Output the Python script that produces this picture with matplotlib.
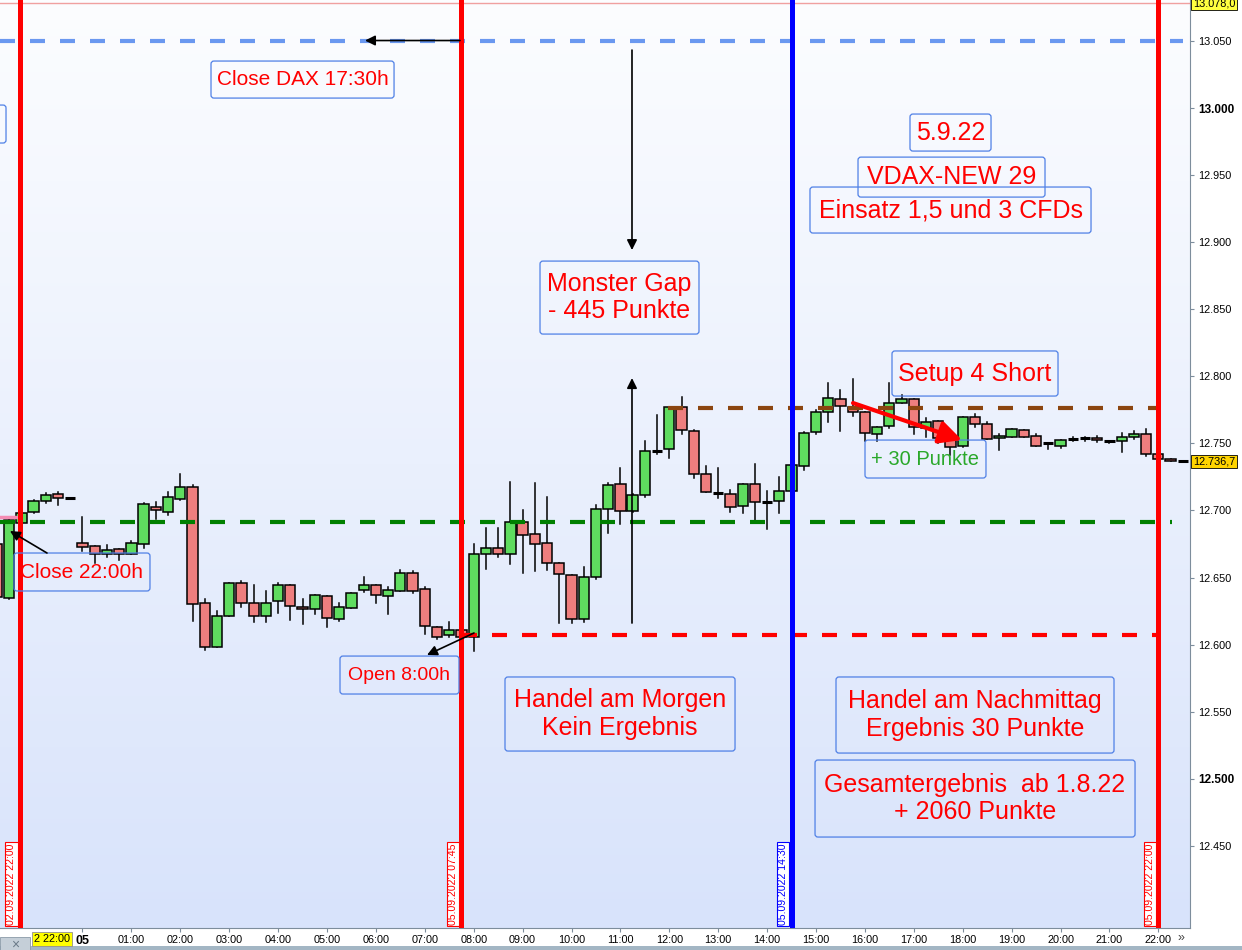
import numpy as np
import matplotlib.pyplot as plt
from matplotlib.patches import Rectangle, FancyBboxPatch

plt.rcParams['font.family'] = ['Liberation Sans', 'DejaVu Sans']

# DAX 15-min candles, slot 0 = 05.09.2022 00:00
slot = np.arange(-7, 91)
o = [12675.0, 12634.8, 12690.6, 12698.9, 12707.1, 12712.3, 12709.3,
     12675.8, 12673.5, 12667.6, 12671.3, 12667.6, 12675.0, 12702.6, 12698.9,
     12708.5, 12717.5, 12631.0, 12598.2, 12621.4, 12645.9, 12631.0, 12621.4,
     12632.5, 12644.4, 12628.0, 12626.6, 12636.3, 12619.1, 12627.3, 12640.7,
     12644.4, 12636.3, 12640.0, 12653.4, 12641.5, 12613.2, 12607.2, 12610.9,
     12605.7, 12667.6, 12672.0, 12667.6, 12691.4, 12682.5, 12675.8, 12660.9,
     12651.9, 12619.1, 12650.4, 12701.1, 12719.7, 12699.6, 12711.5, 12744.3,
     12745.8, 12777.1, 12759.2, 12727.2, 12713.0, 12712.3, 12703.3, 12719.7,
     12706.3, 12707.1, 12714.5, 12733.2, 12758.5, 12773.4, 12783.1, 12777.1,
     12773.4, 12757.0, 12762.9, 12780.1, 12783.1, 12761.5, 12766.7, 12752.5,
     12748.0, 12769.7, 12764.4, 12754.0, 12754.8, 12760.0, 12755.5, 12750.3,
     12748.0, 12753.3, 12754.0, 12754.0, 12751.8, 12751.8, 12754.8, 12757.0,
     12742.1, 12738.4, 12736.7]
h = [12676.0, 12694.4, 12699.0, 12708.0, 12713.0, 12713.8, 12709.6,
     12695.1, 12673.5, 12674.3, 12671.3, 12677.2, 12705.6, 12706.3, 12713.8,
     12727.2, 12719.0, 12634.0, 12625.1, 12645.9, 12647.4, 12644.4, 12640.0,
     12645.9, 12644.4, 12634.0, 12637.0, 12636.3, 12631.0, 12638.5, 12650.4,
     12644.4, 12643.0, 12655.6, 12654.9, 12643.0, 12613.2, 12616.9, 12611.0,
     12675.0, 12686.9, 12686.9, 12721.2, 12700.4, 12720.5, 12710.0, 12660.9,
     12651.9, 12657.9, 12704.1, 12720.5, 12731.6, 12712.0, 12751.8, 12771.2,
     12777.1, 12784.6, 12760.0, 12733.2, 12731.6, 12715.3, 12719.7, 12734.6,
     12714.5, 12725.0, 12735.0, 12758.5, 12774.9, 12795.0, 12789.8, 12798.0,
     12773.4, 12762.2, 12795.0, 12786.0, 12783.1, 12768.9, 12766.7, 12752.5,
     12769.7, 12771.9, 12765.9, 12757.0, 12761.0, 12760.0, 12757.0, 12750.5,
     12752.5, 12754.8, 12754.8, 12755.5, 12752.0, 12757.7, 12759.2, 12760.7,
     12742.1, 12738.4, 12736.7]
l = [12634.5, 12634.0, 12690.0, 12698.0, 12705.6, 12704.1, 12709.0,
     12669.8, 12660.9, 12665.3, 12663.1, 12667.6, 12672.0, 12693.6, 12696.6,
     12707.8, 12617.6, 12596.0, 12598.2, 12621.4, 12628.0, 12616.9, 12616.9,
     12623.6, 12618.4, 12615.4, 12622.8, 12613.2, 12617.6, 12627.3, 12639.2,
     12631.0, 12622.8, 12640.0, 12638.5, 12607.9, 12604.2, 12605.7, 12605.0,
     12595.3, 12656.4, 12665.3, 12660.1, 12653.4, 12654.9, 12655.6, 12616.1,
     12616.1, 12616.9, 12648.9, 12683.2, 12689.9, 12699.0, 12710.0, 12742.1,
     12739.1, 12757.0, 12724.2, 12713.8, 12709.3, 12698.9, 12698.1, 12691.4,
     12686.2, 12698.1, 12713.0, 12730.2, 12757.0, 12765.9, 12759.2, 12770.4,
     12751.8, 12751.8, 12761.5, 12780.1, 12757.0, 12754.8, 12750.3, 12741.3,
     12747.3, 12762.2, 12753.3, 12745.1, 12754.5, 12754.8, 12748.0, 12745.8,
     12746.5, 12751.8, 12751.8, 12751.0, 12750.3, 12743.6, 12753.3, 12740.6,
     12738.0, 12736.7, 12736.7]
c = [12635.5, 12692.9, 12698.1, 12707.1, 12711.5, 12709.3, 12709.3,
     12672.8, 12667.6, 12670.5, 12667.6, 12675.8, 12704.8, 12700.4, 12710.0,
     12717.5, 12630.3, 12598.2, 12621.4, 12645.9, 12631.0, 12621.4, 12631.0,
     12644.4, 12628.8, 12626.6, 12637.0, 12619.9, 12628.0, 12638.5, 12644.4,
     12637.0, 12640.7, 12653.4, 12640.0, 12613.9, 12605.7, 12610.9, 12605.7,
     12667.6, 12672.0, 12667.6, 12691.4, 12681.7, 12675.0, 12660.9, 12652.7,
     12619.1, 12650.4, 12701.1, 12719.0, 12699.6, 12711.5, 12744.3, 12744.3,
     12777.1, 12760.0, 12727.2, 12713.8, 12713.0, 12702.6, 12719.7, 12706.3,
     12706.3, 12714.5, 12733.9, 12757.7, 12773.4, 12783.8, 12777.9, 12773.4,
     12757.7, 12762.2, 12780.1, 12783.1, 12762.2, 12765.9, 12754.0, 12747.3,
     12769.7, 12764.4, 12753.3, 12755.5, 12760.7, 12754.8, 12748.0, 12750.3,
     12752.5, 12753.3, 12754.0, 12752.5, 12751.8, 12754.8, 12757.0, 12742.1,
     12738.4, 12736.7, 12736.7]

price_ticks = np.arange(12450, 13051, 50)
hour_ticks = np.arange(0, 23)
hour_labels = ['05'] + ['%02d:00' % k for k in range(1, 23)]

# marker lines (hours rel. to 05.09. 00:00)
vlines = [(-1.278, '#ff0000', '02.09.2022 22:00'),
          (7.75, '#ff0000', '05.09.2022 07:45'),
          (14.5, '#0000ff', '05.09.2022 14:30'),
          (22.0, '#ff0000', '05.09.2022 22:00')]
close_dax = 13050.1
close_fri = 12691.4
open_mon = 12607.5
setup_lvl = 12776.4
last_price = 12736.7
high_mark = 13078.0

red = '#ff0000'
grn = '#2aa82a'
notes = [
    (2.628, 6.371, 13007.4, 13035.0, 'Close DAX 17:30h', red, 15),
    (16.922, 18.579, 12967.9, 12995.5, '5.9.22', red, 18),
    (15.859, 19.683, 12933.6, 12963.4, 'VDAX-NEW 29', red, 18),
    (14.877, 20.624, 12906.8, 12941.1, 'Einsatz 1,5 und 3 CFDs', red, 18),
    (9.356, 12.607, 12831.5, 12885.9, 'Monster Gap\n- 445 Punkte', red, 18),
    (16.554, 19.949, 12785.3, 12818.9, 'Setup 4 Short', red, 18),
    (16.002, 18.476, 12724.2, 12752.5, '+ 30 Punkte', grn, 14.5),
    (-1.401, 1.380, 12640.0, 12668.3, 'Close 22:00h', red, 15),
    (5.266, 7.699, 12563.2, 12591.5, 'Open 8:00h', red, 14),
    (8.640, 13.344, 12520.7, 12575.9, 'Handel am Morgen\nKein Ergebnis', red, 18),
    (15.409, 21.094, 12519.2, 12575.9, 'Handel am Nachmittag\nErgebnis 30 Punkte', red, 18),
    (14.980, 21.524, 12456.6, 12514.0, 'Gesamtergebnis  ab 1.8.22\n+ 2060 Punkte', red, 18),
]

xmin, xmax = -1.687, 22.648
ymin, ymax = 12388.8, 13080.5

fig = plt.figure(figsize=(12.42, 9.5), dpi=100)
fig.patch.set_facecolor('white')
ax = fig.add_axes([0, 22 / 950, 1190 / 1242, 928 / 950])

# background gradient
grad = np.linspace(0, 1, 256)[:, None, None]
top = np.array([252, 253, 255]) / 255
bot = np.array([216, 227, 251]) / 255
ax.imshow(top + (bot - top) * grad, extent=[xmin, xmax, ymin, ymax],
          aspect='auto', origin='upper', zorder=0)

# candles
hours = slot * 0.25
bw = 0.21
for x, op, hi, lo, cl in zip(hours, o, h, l, c):
    ax.plot([x, x], [lo, hi], color='black', lw=1.1, zorder=3)
    if abs(cl - op) < 0.5:
        ax.plot([x - bw / 2, x + bw / 2], [op, op], color='black', lw=2.2,
                zorder=4, solid_capstyle='butt')
    else:
        fc = '#5fdc5f' if cl > op else '#ee7e7e'
        ax.add_patch(Rectangle((x - bw / 2, min(op, cl)), bw, abs(cl - op),
                               fc=fc, ec='black', lw=1.1, zorder=4))

# level lines
dash = (0, (3.6, 3.6))
ax.plot([xmin, 22.5], [close_dax] * 2, color='#6a98f0', lw=3, ls=dash, zorder=5)
ax.plot([xmin, 22.28], [close_fri] * 2, color='#008000', lw=3, ls=dash, zorder=5)
ax.plot([7.76, 22.03], [open_mon] * 2, color='#ff0000', lw=3, ls=dash, zorder=5)
ax.plot([11.97, 22.03], [setup_lvl] * 2, color='#8b4510', lw=3, ls=dash, zorder=5)
ax.plot([xmin, -1.34], [12695.1] * 2, color='#f48cb4', lw=2.5, zorder=5)
ax.axhline(high_mark, color='#f0a0a0', lw=1, zorder=2)

for xv, col, txt in vlines:
    ax.axvline(xv, color=col, lw=3.6, zorder=7)
    ax.text(xv - 0.072, 12391.0, txt, rotation=90, ha='right', va='bottom',
            fontsize=7.6, color=col, zorder=8,
            bbox=dict(boxstyle='square,pad=0.12', fc='white', ec=col, lw=0.8))

# text boxes
for x0, x1, y0, y1, txt, col, fs in notes:
    ax.add_patch(FancyBboxPatch((x0, y0), x1 - x0, y1 - y0,
                                boxstyle='round,pad=0,rounding_size=0.06',
                                mutation_aspect=36, fc='none', ec='#4f80e6',
                                lw=0.9, zorder=9))
    ax.text((x0 + x1) / 2, (y0 + y1) / 2, txt, ha='center', va='center',
            multialignment='center', fontsize=fs, color=col, zorder=10)
ax.add_patch(FancyBboxPatch((-2.9, 12973.9), 1.336, 28.3,
                            boxstyle='round,pad=0,rounding_size=0.06',
                            mutation_aspect=36, fc='none', ec='#4f80e6',
                            lw=0.9, zorder=9))

# arrows
def arrow(tail, tip, col='black', lw=1.2, ms=15):
    ax.annotate('', xy=tip, xytext=tail, zorder=11,
                arrowprops=dict(arrowstyle='-|>', color=col, lw=lw,
                                mutation_scale=ms, shrinkA=0, shrinkB=0))

arrow((11.237, 13043.2), (11.237, 12894.1))
arrow((11.237, 12616.1), (11.237, 12798.7))
arrow((7.720, 13050.3), (5.777, 13050.3))
arrow((-0.726, 12668.3), (-1.483, 12684.7))
arrow((8.006, 12608.7), (7.045, 12592.3))
arrow((15.757, 12780.1), (17.986, 12752.5), col='#ff0000', lw=3, ms=34)

ax.set_xlim(xmin, xmax)
ax.set_ylim(ymin, ymax)

# axes styling
for s in ['left', 'top']:
    ax.spines[s].set_visible(False)
for s in ['right', 'bottom']:
    ax.spines[s].set_color('#7d8d9c')
ax.yaxis.tick_right()
ax.set_yticks(price_ticks)
ax.set_yticklabels(['{:,}'.format(v).replace(',', '.') for v in price_ticks])
ax.tick_params(axis='y', length=3, pad=3, labelsize=7.8, color='#7d8d9c')
for lab, v in zip(ax.get_yticklabels(), price_ticks):
    if v in (12500, 13000):
        lab.set_fontweight('bold')
        lab.set_fontsize(8.5)
ax.set_xticks(hour_ticks)
ax.set_xticklabels(hour_labels)
ax.tick_params(axis='x', length=3, pad=2, labelsize=7.8, color='#7d8d9c')
xl = ax.get_xticklabels()[0]
xl.set_fontweight('bold')
xl.set_fontsize(9)

for val, txt, fc in [(high_mark, '13.078,0', '#ffff40'), (last_price, '12.736,7', '#ffd400')]:
    ax.annotate(txt, xy=(1, val), xycoords=('axes fraction', 'data'),
                xytext=(2, 0), textcoords='offset points', ha='left',
                va='center', fontsize=7.8, annotation_clip=False,
                bbox=dict(boxstyle='square,pad=0.15', fc=fc, ec='black', lw=0.6))

# window chrome at the bottom
fig.text(52 / 1242, 1 - 939 / 950, '2 22:00', ha='center', va='center',
         fontsize=7.8, bbox=dict(boxstyle='square,pad=0.2', fc='#ffff00',
                                 ec='#909090', lw=0.6))
fig.patches.append(Rectangle((0, 0), 1, 4 / 950, transform=fig.transFigure,
                             fc='#a3b6c4', ec='none', zorder=0))
fig.patches.append(Rectangle((0, 0), 30 / 1242, 13 / 950, transform=fig.transFigure,
                             fc='#c5cfd8', ec='#8a9aa8', lw=0.6, zorder=1))
fig.text(15 / 1242, 5 / 950, '×', ha='center', va='center', fontsize=10,
         color='#6a7a88')
fig.text(1181 / 1242, 1 - 938 / 950, '»', ha='center', va='center',
         fontsize=9, color='#404040')

fig.savefig('out.png', dpi=100)
